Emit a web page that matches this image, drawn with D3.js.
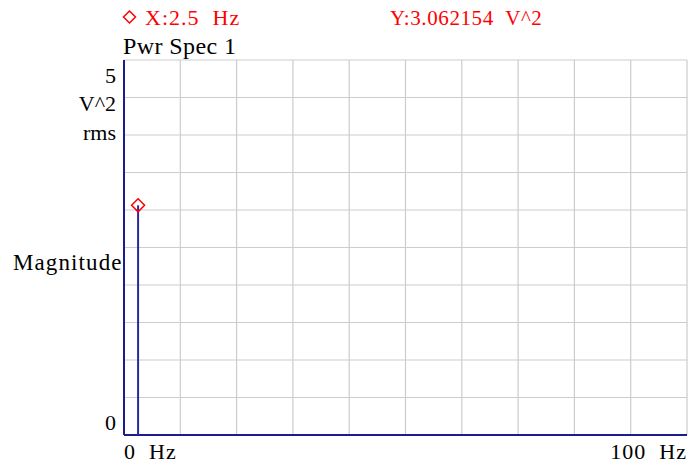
<!DOCTYPE html>
<html>
<head>
<meta charset="utf-8">
<script src="https://cdn.jsdelivr.net/npm/d3@7"></script>
<style>
  body { margin: 0; background: #fff; }
  text { font-family: 'Liberation Serif', 'Times New Roman', serif; white-space: pre; }
</style>
</head>
<body>
<div id="chart"></div>
<script>
// spectrum peak (cursor sits on it)
var peakFreqs = [2.5];
var peakValues = [3.062154];
var xDomain = [0, 100];
var yDomain = [0, 5];
var xTickLabels = ["0  Hz", "100  Hz"];
var yTickLabels = ["0", "5"];
var yUnitLabels = ["V^2", "rms"];
var cursorX = 2.5, cursorY = 3.062154;

var width = 691,
  height = 467,
  margin = { top: 60, right: 4, bottom: 32, left: 124 };

var x = d3.scaleLinear().domain(xDomain).range([margin.left, width - margin.right]);
var y = d3.scaleLinear().domain(yDomain).range([height - margin.bottom, margin.top]);

var svg = d3.select('#chart')
  .append('svg')
  .attr('width', width)
  .attr('height', height);

// grid
var grid = svg.append("g").attr("class", "grid");
grid.selectAll("line.v")
  .data(d3.range(0, 101, 10))
  .enter().append("line")
  .attr("x1", function(d) { return x(d); })
  .attr("x2", function(d) { return x(d); })
  .attr("y1", y(5)).attr("y2", y(0))
  .attr("stroke", "#cccccc").attr("stroke-width", 1.2);
grid.selectAll("line.h")
  .data(d3.range(0, 5.01, 0.5))
  .enter().append("line")
  .attr("y1", function(d) { return y(d); })
  .attr("y2", function(d) { return y(d); })
  .attr("x1", x(0)).attr("x2", x(100))
  .attr("stroke", "#cccccc").attr("stroke-width", 1.2);

// axes lines
svg.append("line")
  .attr("x1", x(0)).attr("x2", x(0))
  .attr("y1", y(5)).attr("y2", y(0))
  .attr("stroke", "#1c1c8e").attr("stroke-width", 2);
svg.append("line")
  .attr("x1", x(0)).attr("x2", x(100))
  .attr("y1", y(0)).attr("y2", y(0))
  .attr("stroke", "#1c1c8e").attr("stroke-width", 2);

// spectrum stems
svg.selectAll("line.stem")
  .data(peakFreqs)
  .enter().append("line")
  .attr("x1", function(d) { return x(d); })
  .attr("x2", function(d) { return x(d); })
  .attr("y1", y(0))
  .attr("y2", function(d, i) { return y(peakValues[i]); })
  .attr("stroke", "#2a2a9a").attr("stroke-width", 2);

// cursor marker
var diamond = function(cx, cy, r) {
  return "M" + cx + "," + (cy - r) + "L" + (cx + r) + "," + cy +
    "L" + cx + "," + (cy + r) + "L" + (cx - r) + "," + cy + "Z";
};
svg.append("path")
  .attr("d", diamond(x(cursorX), y(cursorY), 6.5))
  .attr("fill", "none").attr("stroke", "#ff0000").attr("stroke-width", 1.5);

// cursor readout
svg.append("path")
  .attr("d", diamond(129.5, 17, 6))
  .attr("fill", "none").attr("stroke", "#ff0000").attr("stroke-width", 1.5);
svg.append("text")
  .attr("x", 145).attr("y", 25)
  .style("font-size", "22px").style("letter-spacing", "1px").style("fill", "#ff0000")
  .text("X:" + cursorX + "  Hz");
svg.append("text")
  .attr("x", 390).attr("y", 25)
  .style("font-size", "21px").style("letter-spacing", "0.6px").style("fill", "#ff0000")
  .text("Y:" + cursorY.toFixed(6) + "  V^2");

// title
svg.append("text")
  .attr("x", 123).attr("y", 54)
  .style("font-size", "24px").style("letter-spacing", "0.4px").style("fill", "#000")
  .text("Pwr Spec 1");

// y labels
svg.append("text")
  .attr("x", 116).attr("y", 83)
  .attr("text-anchor", "end")
  .style("font-size", "22px")
  .text(yTickLabels[1]);
svg.selectAll("text.unit")
  .data(yUnitLabels)
  .enter().append("text")
  .attr("x", 116)
  .attr("y", function(d, i) { return 111 + i * 29; })
  .attr("text-anchor", "end")
  .style("font-size", "22px")
  .text(function(d) { return d; });
svg.append("text")
  .attr("x", 116).attr("y", 430)
  .attr("text-anchor", "end")
  .style("font-size", "22px")
  .text(yTickLabels[0]);
svg.append("text")
  .attr("x", 13).attr("y", 270)
  .style("font-size", "23px")
  .style("letter-spacing", "1.1px")
  .text("Magnitude");

// x labels
svg.append("text")
  .attr("x", x(0)).attr("y", 459)
  .style("font-size", "22px").style("letter-spacing", "1px")
  .text(xTickLabels[0]);
svg.append("text")
  .attr("x", x(100)).attr("y", 459)
  .attr("text-anchor", "end")
  .style("font-size", "22px").style("letter-spacing", "1px")
  .text(xTickLabels[1]);
</script>
</body>
</html>
